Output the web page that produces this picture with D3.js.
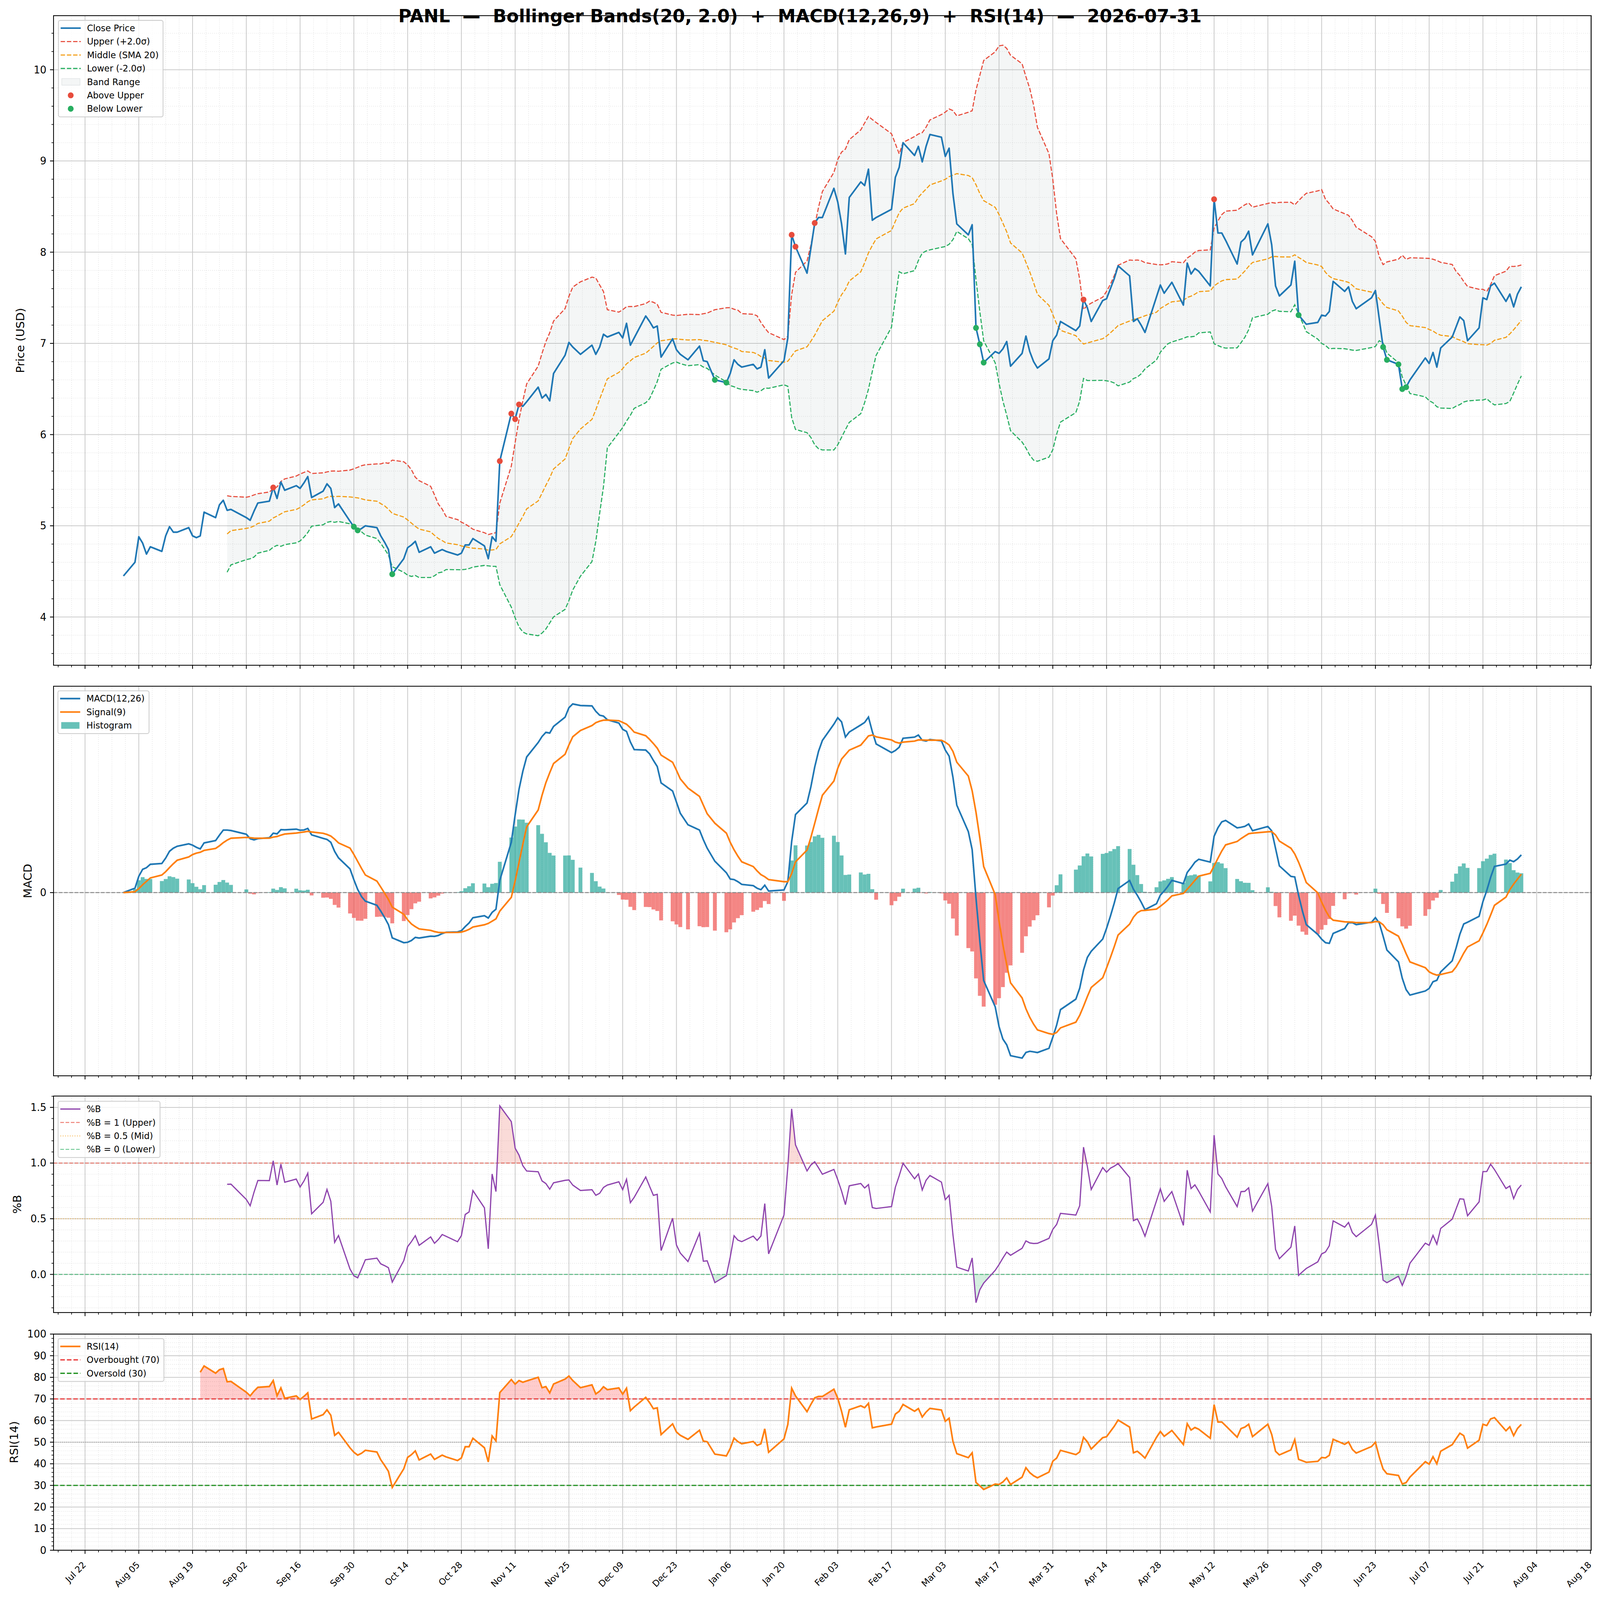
<!DOCTYPE html>
<html>
<head>
<meta charset="utf-8">
<script src="https://cdn.jsdelivr.net/npm/d3@7"></script>
<style>
html, body { margin: 0; padding: 0; width: 100%; height: 100%; overflow: hidden; background: #ffffff; }
#chart { width: 100vw; height: 100vh; }
svg { display: block; width: 100vw; height: 100vh; font-family: "DejaVu Sans", sans-serif; }
</style>
</head>
<body>
<div id="chart"></div>
<script>
// Close prices, one array per month (NYSE trading days)
var closeAug = [4.45, 4.60, 4.88, 4.81, 4.69, 4.77, 4.72, 4.89, 4.99, 4.93, 4.93, 4.98, 4.89, 4.87, 4.89, 5.15, 5.09, 5.23, 5.28, 5.17, 5.18];
var closeSep = [5.09, 5.06, 5.16, 5.25, 5.27, 5.42, 5.30, 5.48, 5.39, 5.44, 5.41, 5.47, 5.54, 5.31, 5.38, 5.46, 5.41, 5.20, 5.24, 5.05, 4.99];
var closeOct = [4.95, 4.97, 5.00, 4.98, 4.89, 4.82, 4.74, 4.47, 4.64, 4.76, 4.79, 4.83, 4.71, 4.77, 4.70, 4.72, 4.74, 4.72, 4.68, 4.70, 4.79, 4.79, 4.86];
var closeNov = [4.78, 4.64, 4.88, 4.83, 5.71, 6.23, 6.17, 6.33, 6.31, 6.36, 6.52, 6.40, 6.44, 6.37, 6.67, 6.87, 7.01, 6.96, 6.88];
var closeDec = [6.98, 6.88, 6.96, 7.10, 7.07, 7.12, 7.06, 7.22, 6.98, 7.06, 7.30, 7.24, 7.17, 7.19, 6.85, 7.05, 6.93, 6.88, 6.82, 6.97, 6.81, 6.80];
var closeJan = [6.60, 6.57, 6.67, 6.82, 6.77, 6.74, 6.77, 6.72, 6.74, 6.93, 6.62, 6.81, 7.06, 8.19, 8.06, 7.77, 8.04, 8.32, 8.38, 8.38];
var closeFeb = [8.70, 8.55, 8.31, 7.98, 8.60, 8.77, 8.73, 8.91, 8.35, 8.38, 8.47, 8.82, 8.93, 9.20, 9.06, 9.16, 8.99, 9.16, 9.29];
var closeMar = [9.26, 9.05, 9.14, 8.64, 8.31, 8.19, 8.30, 7.17, 6.99, 6.79, 6.91, 6.89, 6.94, 7.02, 6.75, 6.89, 7.08, 6.91, 6.80, 6.73, 6.83, 7.03];
var closeApr = [7.09, 7.24, 7.14, 7.19, 7.48, 7.39, 7.24, 7.47, 7.49, 7.60, 7.71, 7.85, 7.74, 7.24, 7.27, 7.20, 7.12, 7.51, 7.64, 7.55, 7.61];
var closeMay = [7.67, 7.42, 7.88, 7.76, 7.82, 7.79, 7.63, 8.58, 8.21, 8.21, 8.13, 7.87, 8.11, 8.15, 8.23, 7.97, 8.31, 8.08, 7.63, 7.52];
var closeJun = [7.64, 7.90, 7.31, 7.26, 7.21, 7.23, 7.31, 7.30, 7.35, 7.68, 7.57, 7.62, 7.46, 7.38, 7.50, 7.58, 7.27, 6.96, 6.82, 6.77, 6.50];
var closeJul = [6.52, 6.60, 6.84, 6.78, 6.90, 6.74, 6.95, 7.07, 7.18, 7.29, 7.25, 7.03, 7.17, 7.50, 7.48, 7.63, 7.66, 7.46, 7.54, 7.40, 7.54, 7.62];

var firstDay = "2025-08-01";
var lastDay = "2026-07-31";
var marketHolidays = ["2025-09-01", "2025-11-27", "2025-12-25", "2026-01-01", "2026-01-19",
  "2026-02-16", "2026-04-03", "2026-05-25", "2026-06-19", "2026-07-03"];

// axis ticks
var tickDates = ["2025-07-22", "2025-08-05", "2025-08-19", "2025-09-02", "2025-09-16", "2025-09-30",
  "2025-10-14", "2025-10-28", "2025-11-11", "2025-11-25", "2025-12-09", "2025-12-23",
  "2026-01-06", "2026-01-20", "2026-02-03", "2026-02-17", "2026-03-03", "2026-03-17",
  "2026-03-31", "2026-04-14", "2026-04-28", "2026-05-12", "2026-05-26", "2026-06-09",
  "2026-06-23", "2026-07-07", "2026-07-21", "2026-08-04", "2026-08-18"];
var priceTicks = [4, 5, 6, 7, 8, 9, 10];
var macdTicks = [0];
var pctBTicks = [0, 0.5, 1.0, 1.5];
var rsiTicks = [0, 10, 20, 30, 40, 50, 60, 70, 80, 90, 100];

var titleText = "PANL  \u2014  Bollinger Bands(20, 2.0)  +  MACD(12,26,9)  +  RSI(14)  \u2014  2026-07-31";

function init(){

var w = 4378;
var h = 4322;
var left = 146.5;
var right = 4354;
var panels = [
  {top: 42.3, bottom: 1797},
  {top: 1853.7, bottom: 2906},
  {top: 2960.7, bottom: 3545.5},
  {top: 3603.7, bottom: 4187.6}
];
var DAY = 864e5;

var parseDay = d3.utcParse("%Y-%m-%d");
var fmtDay = d3.utcFormat("%Y-%m-%d");
var days = d3.utcDay.range(parseDay(firstDay), d3.utcDay.offset(parseDay(lastDay), 1))
  .filter(function(d) {
    var k = d.getUTCDay();
    return k !== 0 && k !== 6 && marketHolidays.indexOf(fmtDay(d)) < 0;
  });
var close = [].concat(closeAug, closeSep, closeOct, closeNov, closeDec, closeJan,
                      closeFeb, closeMar, closeApr, closeMay, closeJun, closeJul);

var dataset = days.map(function(d, i) { return {date: d, close: close[i]}; });

// Bollinger(20, 2)
dataset.forEach(function(d, i) {
  if (i >= 19) {
    var win = close.slice(i - 19, i + 1);
    var m = d3.mean(win), sd = d3.deviation(win);
    d.mid = m; d.upper = m + 2 * sd; d.lower = m - 2 * sd;
    d.pctB = (d.close - d.lower) / (d.upper - d.lower);
  }
});

// MACD(12,26,9)
function ema(values, span) {
  var a = 2 / (span + 1), prev, out = [];
  values.forEach(function(v, i) { prev = i === 0 ? v : a * v + (1 - a) * prev; out.push(prev); });
  return out;
}
var ema12 = ema(close, 12), ema26 = ema(close, 26);
var macd = close.map(function(c, i) { return ema12[i] - ema26[i]; });
var signal = ema(macd, 9);
dataset.forEach(function(d, i) { d.macd = macd[i]; d.signal = signal[i]; d.hist = macd[i] - signal[i]; });

// RSI(14), Wilder smoothing
var ag, al;
dataset.forEach(function(d, i) {
  if (i === 0) return;
  var diff = close[i] - close[i - 1];
  var g = Math.max(diff, 0), l = Math.max(-diff, 0);
  if (i === 1) { ag = g; al = l; } else { ag += (g - ag) / 14; al += (l - al) / 14; }
  if (i >= 14) d.rsi = al === 0 ? 100 : 100 - 100 / (1 + ag / al);
});

var bands = dataset.filter(function(d) { return d.upper !== undefined; });
var rsiData = dataset.filter(function(d) { return d.rsi !== undefined; });

// scales
var t0 = days[0].getTime(), t1 = days[days.length - 1].getTime();
var xm = (t1 - t0) * 0.05;
var xScale = d3.scaleUtc().domain([new Date(t0 - xm), new Date(t1 + xm)]).range([left, right]);

function padded(lo, hi) { var m = (hi - lo) * 0.05; return [lo - m, hi + m]; }

var pLo = Math.min(d3.min(bands, function(d) { return d.lower; }), d3.min(close));
var pHi = Math.max(d3.max(bands, function(d) { return d.upper; }), d3.max(close));
var yPrice = d3.scaleLinear().domain(padded(pLo, pHi)).range([panels[0].bottom, panels[0].top]);

var mLo = d3.min(dataset, function(d) { return Math.min(d.macd, d.signal, d.hist, 0); });
var mHi = d3.max(dataset, function(d) { return Math.max(d.macd, d.signal, d.hist, 0); });
var yMacd = d3.scaleLinear().domain(padded(mLo, mHi)).range([panels[1].bottom, panels[1].top]);

var yPctB = d3.scaleLinear().domain(padded(d3.min(bands, function(d) { return d.pctB; }),
                                           d3.max(bands, function(d) { return d.pctB; })))
  .range([panels[2].bottom, panels[2].top]);

var yRsi = d3.scaleLinear().domain([0, 100]).range([panels[3].bottom, panels[3].top]);

// ticks for the date axis
var xMajor = tickDates.map(parseDay).filter(function(d) { return d >= xScale.domain()[0] && d <= xScale.domain()[1]; });
var xMinor = [];
var m0 = parseDay(tickDates[0]).getTime();
for (var t = m0 - 14 * DAY; t <= m0 + 30 * 14 * DAY; t += 3.5 * DAY) {
  var dd = new Date(t);
  if ((t - m0) % (14 * DAY) !== 0 && dd >= xScale.domain()[0] && dd <= xScale.domain()[1]) xMinor.push(dd);
}

var svg = d3.select("#chart")
  .append("svg")
  .attr("viewBox", "0 0 " + w + " " + h)
  .attr("preserveAspectRatio", "none");

svg.append("rect").attr("width", w).attr("height", h).attr("fill", "#ffffff");

// clip paths per panel
panels.forEach(function(p, k) {
  svg.append("clipPath").attr("id", "clip" + k)
    .append("rect").attr("x", left).attr("y", p.top).attr("width", right - left).attr("height", p.bottom - p.top);
});

// grid lines
function drawGrid(p, yScale, yMajor, yMinor) {
  var g = svg.append("g");
  g.selectAll("line.vmin").data(xMinor).enter().append("line")
    .attr("x1", function(d) { return xScale(d); }).attr("x2", function(d) { return xScale(d); })
    .attr("y1", p.top).attr("y2", p.bottom)
    .attr("stroke", "#d4d4d4").attr("stroke-width", 1.4).attr("stroke-dasharray", "1.5,4");
  g.selectAll("line.hmin").data(yMinor).enter().append("line")
    .attr("x1", left).attr("x2", right)
    .attr("y1", function(d) { return yScale(d); }).attr("y2", function(d) { return yScale(d); })
    .attr("stroke", "#d4d4d4").attr("stroke-width", 1.4).attr("stroke-dasharray", "1.5,4");
  g.selectAll("line.vmaj").data(xMajor).enter().append("line")
    .attr("x1", function(d) { return xScale(d); }).attr("x2", function(d) { return xScale(d); })
    .attr("y1", p.top).attr("y2", p.bottom)
    .attr("stroke", "#cbcbcb").attr("stroke-width", 2.2);
  g.selectAll("line.hmaj").data(yMajor).enter().append("line")
    .attr("x1", left).attr("x2", right)
    .attr("y1", function(d) { return yScale(d); }).attr("y2", function(d) { return yScale(d); })
    .attr("stroke", "#cbcbcb").attr("stroke-width", 2.2);
}

// spines, ticks and tick labels
function drawAxes(p, yScale, yMajor, yMinor, fmt, labelText, labelX, withDates) {
  var g = svg.append("g");
  g.append("rect").attr("x", left).attr("y", p.top).attr("width", right - left).attr("height", p.bottom - p.top)
    .attr("fill", "none").attr("stroke", "#000000").attr("stroke-width", 2.2);
  g.selectAll("line.xt").data(xMajor).enter().append("line")
    .attr("x1", function(d) { return xScale(d); }).attr("x2", function(d) { return xScale(d); })
    .attr("y1", p.bottom).attr("y2", p.bottom + 9.7).attr("stroke", "#000").attr("stroke-width", 2.2);
  g.selectAll("line.xmt").data(xMinor).enter().append("line")
    .attr("x1", function(d) { return xScale(d); }).attr("x2", function(d) { return xScale(d); })
    .attr("y1", p.bottom).attr("y2", p.bottom + 5.6).attr("stroke", "#000").attr("stroke-width", 1.7);
  g.selectAll("line.yt").data(yMajor).enter().append("line")
    .attr("x1", left - 9.7).attr("x2", left)
    .attr("y1", function(d) { return yScale(d); }).attr("y2", function(d) { return yScale(d); })
    .attr("stroke", "#000").attr("stroke-width", 2.2);
  g.selectAll("line.ymt").data(yMinor).enter().append("line")
    .attr("x1", left - 5.6).attr("x2", left)
    .attr("y1", function(d) { return yScale(d); }).attr("y2", function(d) { return yScale(d); })
    .attr("stroke", "#000").attr("stroke-width", 1.7);
  g.selectAll("text.yl").data(yMajor).enter().append("text")
    .attr("x", left - 19.4).attr("y", function(d) { return yScale(d); })
    .attr("text-anchor", "end").attr("dominant-baseline", "central")
    .attr("font-size", 27.5).attr("fill", "#000")
    .text(fmt);
  g.append("text")
    .attr("transform", "translate(" + labelX + "," + ((p.top + p.bottom) / 2) + ") rotate(-90)")
    .attr("text-anchor", "middle").attr("dominant-baseline", "central")
    .attr("font-size", 31).attr("fill", "#000")
    .text(labelText);
  if (withDates) {
    var fmtDate = d3.utcFormat("%b %d");
    g.selectAll("text.xl").data(xMajor).enter().append("text")
      .attr("transform", function(d) { return "translate(" + (xScale(d) + 4) + "," + (p.bottom + 41) + ") rotate(-45)"; })
      .attr("text-anchor", "end")
      .attr("font-size", 24).attr("fill", "#000")
      .text(function(d) { return fmtDate(d); });
  }
}

// legend box
function drawLegend(x0, y0, rows) {
  var g = svg.append("g");
  var box = g.append("rect").attr("x", x0).attr("y", y0).attr("rx", 5).attr("ry", 5)
    .attr("fill", "#ffffff").attr("fill-opacity", 0.8)
    .attr("stroke", "#cccccc").attr("stroke-width", 2.2);
  var maxW = 0;
  rows.forEach(function(r, k) {
    var cy = y0 + 21 + k * 36.3;
    if (r.type === "line") {
      g.append("line").attr("x1", x0 + 6).attr("x2", x0 + 61).attr("y1", cy).attr("y2", cy)
        .attr("stroke", r.color).attr("stroke-width", r.width)
        .attr("stroke-dasharray", r.dash || null).attr("stroke-opacity", r.opacity || 1);
    } else if (r.type === "patch") {
      g.append("rect").attr("x", x0 + 9).attr("y", cy - 9).attr("width", 50).attr("height", 18)
        .attr("fill", r.color).attr("fill-opacity", r.opacity)
        .attr("stroke", r.edge || "none").attr("stroke-opacity", 0.25).attr("stroke-width", 1.5);
    } else {
      g.append("circle").attr("cx", x0 + 33.5).attr("cy", cy).attr("r", 8).attr("fill", r.color);
    }
    var tx = g.append("text").attr("x", x0 + 78).attr("y", cy)
      .attr("dominant-baseline", "central").attr("font-size", 24).attr("fill", "#000").text(r.label);
    maxW = Math.max(maxW, tx.node().getComputedTextLength());
  });
  box.attr("width", 78 + maxW + 12).attr("height", 21 + (rows.length - 1) * 36.3 + 22);
}

function minorTicks(lo, hi, step, major) {
  var out = [];
  for (var k = Math.ceil(lo / step - 1e-9); k * step <= hi + 1e-9; k++) {
    var v = +(k * step).toFixed(6);
    if (Math.abs(v / major - Math.round(v / major)) > 1e-6) out.push(v);
  }
  return out;
}

// ---------- Panel 1: price + Bollinger ----------
var p0 = panels[0];
var priceMinor = minorTicks(yPrice.domain()[0], yPrice.domain()[1], 0.2, 1);
drawGrid(p0, yPrice, priceTicks, priceMinor);

var plot0 = svg.append("g").attr("clip-path", "url(#clip0)");
var bandArea = d3.area()
  .x(function(d) { return xScale(d.date); })
  .y0(function(d) { return yPrice(d.lower); })
  .y1(function(d) { return yPrice(d.upper); });
plot0.append("path").datum(bands).attr("d", bandArea).attr("fill", "#95a5a6").attr("fill-opacity", 0.1);

function bandLine(key) {
  return d3.line().x(function(d) { return xScale(d.date); }).y(function(d) { return yPrice(d[key]); });
}
plot0.append("path").datum(bands).attr("d", bandLine("upper"))
  .attr("fill", "none").attr("stroke", "#e74c3c").attr("stroke-width", 3).attr("stroke-dasharray", "12,5");
plot0.append("path").datum(bands).attr("d", bandLine("mid"))
  .attr("fill", "none").attr("stroke", "#f39c12").attr("stroke-width", 3).attr("stroke-dasharray", "12,5");
plot0.append("path").datum(bands).attr("d", bandLine("lower"))
  .attr("fill", "none").attr("stroke", "#27ae60").attr("stroke-width", 3).attr("stroke-dasharray", "12,5");

var lineClose = d3.line()
  .x(function(d) { return xScale(d.date); })
  .y(function(d) { return yPrice(d.close); });
plot0.append("path").datum(dataset).attr("d", lineClose)
  .attr("fill", "none").attr("stroke", "#1f77b4").attr("stroke-width", 4.4).attr("stroke-linejoin", "round");

plot0.selectAll("circle.above").data(bands.filter(function(d) { return d.close > d.upper; }))
  .enter().append("circle").attr("class", "above")
  .attr("cx", function(d) { return xScale(d.date); }).attr("cy", function(d) { return yPrice(d.close); })
  .attr("r", 8).attr("fill", "#e74c3c");
plot0.selectAll("circle.below").data(bands.filter(function(d) { return d.close < d.lower; }))
  .enter().append("circle").attr("class", "below")
  .attr("cx", function(d) { return xScale(d.date); }).attr("cy", function(d) { return yPrice(d.close); })
  .attr("r", 8).attr("fill", "#27ae60");

drawAxes(p0, yPrice, priceTicks, priceMinor, function(d) { return d; }, "Price (USD)", 56, false);
drawLegend(160, 55, [
  {type: "line", label: "Close Price", color: "#1f77b4", width: 4.4},
  {type: "line", label: "Upper (+2.0\u03c3)", color: "#e74c3c", width: 3, dash: "12,5"},
  {type: "line", label: "Middle (SMA 20)", color: "#f39c12", width: 3, dash: "12,5"},
  {type: "line", label: "Lower (-2.0\u03c3)", color: "#27ae60", width: 3, dash: "12,5"},
  {type: "patch", label: "Band Range", color: "#95a5a6", opacity: 0.1, edge: "#95a5a6"},
  {type: "dot", label: "Above Upper", color: "#e74c3c"},
  {type: "dot", label: "Below Lower", color: "#27ae60"}
]);

// ---------- Panel 2: MACD ----------
var p1 = panels[1];
drawGrid(p1, yMacd, macdTicks, []);
var plot1 = svg.append("g").attr("clip-path", "url(#clip1)");
plot1.selectAll("rect.hist").data(dataset).enter().append("rect")
  .attr("class", "hist")
  .attr("x", function(d) { return xScale(new Date(d.date.getTime() - 0.5 * DAY)); })
  .attr("width", xScale(new Date(t0 + DAY)) - xScale(new Date(t0)))
  .attr("y", function(d) { return yMacd(Math.max(d.hist, 0)); })
  .attr("height", function(d) { return Math.abs(yMacd(d.hist) - yMacd(0)); })
  .attr("fill", function(d) { return d.hist >= 0 ? "#26a69a" : "#ef5350"; })
  .attr("fill-opacity", 0.7);
plot1.append("line").attr("x1", left).attr("x2", right).attr("y1", yMacd(0)).attr("y2", yMacd(0))
  .attr("stroke", "#888888").attr("stroke-width", 2.6).attr("stroke-dasharray", "10,4.4");
var lineMacd = d3.line().x(function(d) { return xScale(d.date); }).y(function(d) { return yMacd(d.macd); });
var lineSignal = d3.line().x(function(d) { return xScale(d.date); }).y(function(d) { return yMacd(d.signal); });
plot1.append("path").datum(dataset).attr("d", lineMacd)
  .attr("fill", "none").attr("stroke", "#1f77b4").attr("stroke-width", 4.4);
plot1.append("path").datum(dataset).attr("d", lineSignal)
  .attr("fill", "none").attr("stroke", "#ff7f0e").attr("stroke-width", 4.4);
drawAxes(p1, yMacd, macdTicks, [], function(d) { return d; }, "MACD", 76, false);
drawLegend(158.5, 1866, [
  {type: "line", label: "MACD(12,26)", color: "#1f77b4", width: 4.4},
  {type: "line", label: "Signal(9)", color: "#ff7f0e", width: 4.4},
  {type: "patch", label: "Histogram", color: "#26a69a", opacity: 0.7}
]);

// ---------- Panel 3: %B ----------
var p2 = panels[2];
var pctBMinor = minorTicks(yPctB.domain()[0], yPctB.domain()[1], 0.1, 0.5);
drawGrid(p2, yPctB, pctBTicks, pctBMinor);
svg.append("clipPath").attr("id", "clipB1").append("rect")
  .attr("x", left).attr("y", p2.top).attr("width", right - left).attr("height", yPctB(1) - p2.top);
svg.append("clipPath").attr("id", "clipB0").append("rect")
  .attr("x", left).attr("y", yPctB(0)).attr("width", right - left).attr("height", p2.bottom - yPctB(0));
var plot2 = svg.append("g").attr("clip-path", "url(#clip2)");
plot2.append("path").datum(bands).attr("clip-path", "url(#clipB1)")
  .attr("d", d3.area().x(function(d) { return xScale(d.date); }).y0(yPctB(1)).y1(function(d) { return yPctB(d.pctB); }))
  .attr("fill", "#e74c3c").attr("fill-opacity", 0.2);
plot2.append("path").datum(bands).attr("clip-path", "url(#clipB0)")
  .attr("d", d3.area().x(function(d) { return xScale(d.date); }).y0(yPctB(0)).y1(function(d) { return yPctB(d.pctB); }))
  .attr("fill", "#27ae60").attr("fill-opacity", 0.2);
plot2.append("line").attr("x1", left).attr("x2", right).attr("y1", yPctB(1)).attr("y2", yPctB(1))
  .attr("stroke", "#e74c3c").attr("stroke-opacity", 0.7).attr("stroke-width", 2.5).attr("stroke-dasharray", "10,4.4");
plot2.append("line").attr("x1", left).attr("x2", right).attr("y1", yPctB(0.5)).attr("y2", yPctB(0.5))
  .attr("stroke", "#f39c12").attr("stroke-opacity", 0.6).attr("stroke-width", 2.5).attr("stroke-dasharray", "2.5,4");
plot2.append("line").attr("x1", left).attr("x2", right).attr("y1", yPctB(0)).attr("y2", yPctB(0))
  .attr("stroke", "#27ae60").attr("stroke-opacity", 0.7).attr("stroke-width", 2.5).attr("stroke-dasharray", "10,4.4");
plot2.append("path").datum(bands)
  .attr("d", d3.line().x(function(d) { return xScale(d.date); }).y(function(d) { return yPctB(d.pctB); }))
  .attr("fill", "none").attr("stroke", "#8e44ad").attr("stroke-width", 3.3);
drawAxes(p2, yPctB, pctBTicks, pctBMinor, d3.format(".1f"), "%B", 47, false);
drawLegend(159, 2974.8, [
  {type: "line", label: "%B", color: "#8e44ad", width: 3.3},
  {type: "line", label: "%B = 1 (Upper)", color: "#e74c3c", width: 2.5, dash: "10,4.4", opacity: 0.7},
  {type: "line", label: "%B = 0.5 (Mid)", color: "#f39c12", width: 2.5, dash: "2.5,4", opacity: 0.6},
  {type: "line", label: "%B = 0 (Lower)", color: "#27ae60", width: 2.5, dash: "10,4.4", opacity: 0.7}
]);

// ---------- Panel 4: RSI ----------
var p3 = panels[3];
var rsiMinor = minorTicks(0, 100, 2, 10);
drawGrid(p3, yRsi, rsiTicks, rsiMinor);
svg.append("clipPath").attr("id", "clipR70").append("rect")
  .attr("x", left).attr("y", p3.top).attr("width", right - left).attr("height", yRsi(70) - p3.top);
svg.append("clipPath").attr("id", "clipR30").append("rect")
  .attr("x", left).attr("y", yRsi(30)).attr("width", right - left).attr("height", p3.bottom - yRsi(30));
var plot3 = svg.append("g").attr("clip-path", "url(#clip3)");
plot3.append("path").datum(rsiData).attr("clip-path", "url(#clipR70)")
  .attr("d", d3.area().x(function(d) { return xScale(d.date); }).y0(yRsi(70)).y1(function(d) { return yRsi(d.rsi); }))
  .attr("fill", "#ff0000").attr("fill-opacity", 0.2);
plot3.append("path").datum(rsiData).attr("clip-path", "url(#clipR30)")
  .attr("d", d3.area().x(function(d) { return xScale(d.date); }).y0(yRsi(30)).y1(function(d) { return yRsi(d.rsi); }))
  .attr("fill", "#008000").attr("fill-opacity", 0.2);
plot3.append("line").attr("x1", left).attr("x2", right).attr("y1", yRsi(50)).attr("y2", yRsi(50))
  .attr("stroke", "#808080").attr("stroke-opacity", 0.8).attr("stroke-width", 2.2).attr("stroke-dasharray", "2.2,3.6");
plot3.append("line").attr("x1", left).attr("x2", right).attr("y1", yRsi(70)).attr("y2", yRsi(70))
  .attr("stroke", "#e82c2c").attr("stroke-opacity", 0.9).attr("stroke-width", 3.3).attr("stroke-dasharray", "12.5,5.5");
plot3.append("line").attr("x1", left).attr("x2", right).attr("y1", yRsi(30)).attr("y2", yRsi(30))
  .attr("stroke", "#1e901e").attr("stroke-opacity", 0.9).attr("stroke-width", 3.3).attr("stroke-dasharray", "12.5,5.5");
plot3.append("path").datum(rsiData)
  .attr("d", d3.line().x(function(d) { return xScale(d.date); }).y(function(d) { return yRsi(d.rsi); }))
  .attr("fill", "none").attr("stroke", "#ff7f0e").attr("stroke-width", 4.4);
drawAxes(p3, yRsi, rsiTicks, rsiMinor, function(d) { return d; }, "RSI(14)", 39, true);
drawLegend(159, 3616, [
  {type: "line", label: "RSI(14)", color: "#ff7f0e", width: 4.4},
  {type: "line", label: "Overbought (70)", color: "#e82c2c", width: 3.3, dash: "12.5,5.5"},
  {type: "line", label: "Oversold (30)", color: "#1e901e", width: 3.3, dash: "12.5,5.5"}
]);

// title
svg.append("text")
  .attr("x", w / 2).attr("y", 60)
  .attr("text-anchor", "middle")
  .attr("font-size", 49).attr("font-weight", "bold").attr("fill", "#000")
  .style("white-space", "pre")
  .text(titleText);
}

window.onload = init;
</script>
</body>
</html>
